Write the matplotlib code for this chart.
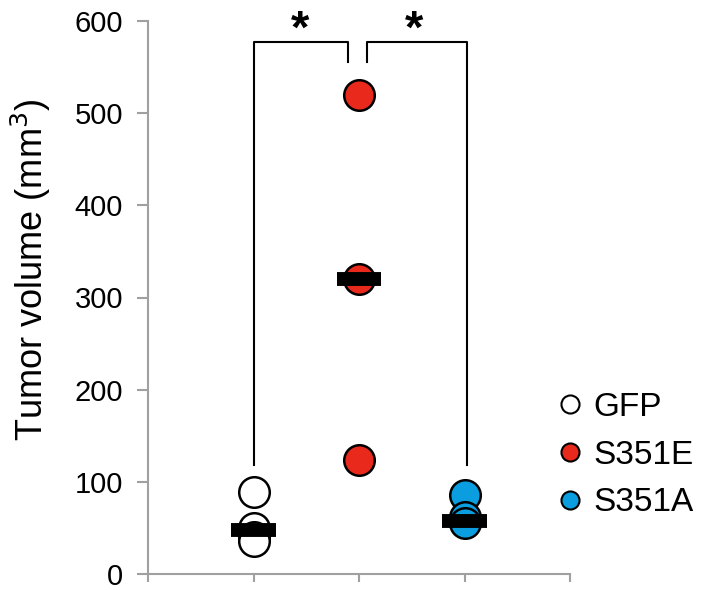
import matplotlib
matplotlib.use('Agg')
import matplotlib.pyplot as plt
import numpy as np

plt.rcParams['font.family'] = ['Liberation Sans', 'DejaVu Sans']

groups = ["GFP", "S351E", "S351A"]
colors = ["white", "#e8291c", "#0a9ee0"]
gfp = [89, 50, 40, 36]
s351e = [520, 320, 124]
s351a = [86, 62, 55]
medians = [48, 320, 57]
yticks = [0, 100, 200, 300, 400, 500, 600]

values = [gfp, s351e, s351a]
xpos = [1, 2, 3]

fig = plt.figure(figsize=(7.13, 5.90), dpi=100)
ax = fig.add_axes([148/713, 16/590, 422/713, 553/590])

for i in range(len(groups)):
    ax.plot([xpos[i]] * len(values[i]), values[i], 'o', markersize=22,
            markerfacecolor=colors[i], markeredgecolor='k', markeredgewidth=1.8,
            linestyle='none', zorder=3)
    ax.plot([xpos[i] - 0.21, xpos[i] + 0.21], [medians[i], medians[i]],
            color='k', linewidth=10, solid_capstyle='butt', zorder=4)

# significance brackets
ax.plot([1, 1, 1.9, 1.9], [118, 577, 577, 555], color='k', lw=1.5, clip_on=False)
ax.plot([2.08, 2.08, 3.02, 3.02], [555, 577, 577, 118], color='k', lw=1.5, clip_on=False)
ax.text(1.44, 576, "*", ha='center', va='baseline', fontsize=34, fontweight='bold', clip_on=False)
ax.text(2.52, 576, "*", ha='center', va='baseline', fontsize=34, fontweight='bold', clip_on=False)

ax.set_xlim(0, 4)
ax.set_ylim(0, 600)
ax.set_xticks([0, 1, 2, 3, 4])
ax.set_xticklabels([])
ax.set_yticks(yticks)
ax.tick_params(axis='y', labelsize=21, colors='#a0a0a0', labelcolor='k', length=8, width=1.5, pad=10)
ax.tick_params(axis='x', colors='#a0a0a0', length=6, width=1.5)
for s in ['top', 'right']:
    ax.spines[s].set_visible(False)
for s in ['left', 'bottom']:
    ax.spines[s].set_color('#a0a0a0')
    ax.spines[s].set_linewidth(1.5)
ax.set_ylabel("Tumor volume (mm$^3$)", fontsize=26)
ax.yaxis.set_label_coords(-0.225, 0.55)

handles = [plt.Line2D([], [], marker='o', linestyle='none', markersize=13,
                      markerfacecolor=c, markeredgecolor='k', markeredgewidth=1.5)
           for c in colors]
fig.legend(handles, groups, loc='upper left', bbox_to_anchor=(557/713, 1 - 392/590),
           frameon=False, fontsize=24, handletextpad=0.3, labelspacing=0.5,
           handlelength=0.8, borderaxespad=0, borderpad=0)

fig.savefig("out.png", dpi=100)
